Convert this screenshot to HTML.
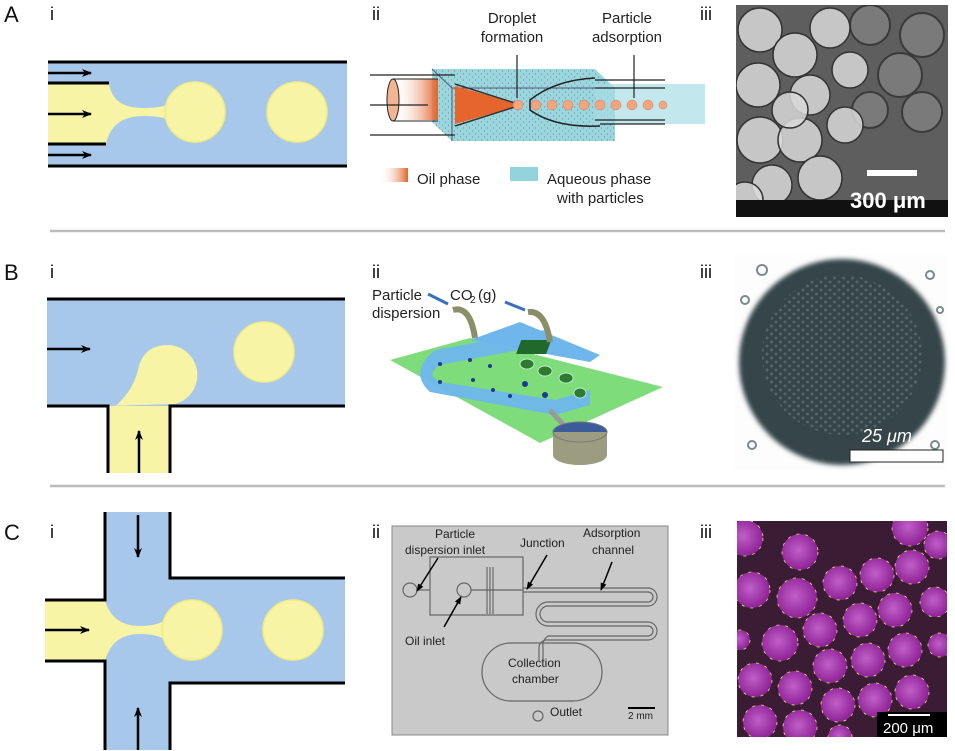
<!DOCTYPE html>
<html><head><meta charset="utf-8"><style>
html,body{margin:0;padding:0;background:#fff;}
svg{display:block;font-family:"Liberation Sans",sans-serif;}
</style></head><body>
<svg width="955" height="751" viewBox="0 0 955 751" xmlns="http://www.w3.org/2000/svg">
<defs>
<marker id="ah" markerWidth="10" markerHeight="8" refX="9" refY="4" orient="auto" markerUnits="userSpaceOnUse"><path d="M0,0 L10,4 L0,8 L3,4z" fill="#000"/></marker>
<marker id="ah2" markerWidth="8" markerHeight="6" refX="7" refY="3" orient="auto" markerUnits="userSpaceOnUse"><path d="M0,0 L8,3 L0,6z" fill="#000"/></marker>
<linearGradient id="oil" x1="0" x2="1"><stop offset="0" stop-color="#fff" stop-opacity="0"/><stop offset="1" stop-color="#e2622a"/></linearGradient>
<radialGradient id="pd" cx="0.45" cy="0.45" r="0.6"><stop offset="0" stop-color="#c060c8"/><stop offset="1" stop-color="#8a1c92"/></radialGradient>
<pattern id="dots" width="6" height="6" patternUnits="userSpaceOnUse"><rect width="6" height="6" fill="#8ed3dc"/><circle cx="1.5" cy="2" r="0.6" fill="#777"/><circle cx="4.5" cy="5" r="0.6" fill="#777"/></pattern>
<pattern id="hex" width="9" height="8" patternUnits="userSpaceOnUse"><circle cx="2" cy="2" r="1.5" fill="#5b7070"/><circle cx="6.5" cy="6" r="1.5" fill="#5b7070"/></pattern>
<clipPath id="cA"><rect x="736" y="5" width="212" height="212"/></clipPath>
<clipPath id="cC"><rect x="737" y="521" width="210" height="216"/></clipPath>
<filter id="blur"><feGaussianBlur stdDeviation="2.5"/></filter>
</defs>

<!-- labels -->
<g font-size="22" fill="#111">
<text x="4" y="22">A</text><text x="4" y="280">B</text><text x="4" y="540">C</text>
</g>
<g font-size="18" fill="#111">
<text x="50" y="20">i</text><text x="372" y="20">ii</text><text x="700" y="20">iii</text>
<text x="50" y="278">i</text><text x="372" y="278">ii</text><text x="700" y="278">iii</text>
<text x="50" y="538">i</text><text x="372" y="538">ii</text><text x="700" y="538">iii</text>
</g>

<!-- separators -->
<line x1="50" y1="231" x2="945" y2="231" stroke="#bbb" stroke-width="2.5"/>
<line x1="50" y1="486" x2="945" y2="486" stroke="#bbb" stroke-width="2.5"/>

<!-- A-i -->
<rect x="48" y="62" width="299" height="104" fill="#a7c8eb"/>
<path d="M48,83 L109,83 Q112,108 143,108 Q170,108 172,100 L172,124 Q170,116 143,116 Q112,116 106,144 L48,144z" fill="#f7f4a6"/>
<circle cx="195" cy="112" r="30" fill="#f7f4a6" stroke="#f2ec80" stroke-width="1.5"/>
<circle cx="297" cy="112" r="30" fill="#f7f4a6" stroke="#f2ec80" stroke-width="1.5"/>
<line x1="48" y1="62" x2="347" y2="62" stroke="#000" stroke-width="3"/>
<line x1="48" y1="166" x2="347" y2="166" stroke="#000" stroke-width="3"/>
<line x1="48" y1="83" x2="109" y2="83" stroke="#000" stroke-width="3"/>
<line x1="48" y1="144" x2="106" y2="144" stroke="#000" stroke-width="3"/>
<g stroke="#000" stroke-width="2.5" marker-end="url(#ah)">
<line x1="48" y1="73" x2="91" y2="73"/><line x1="48" y1="114" x2="91" y2="114"/><line x1="48" y1="155" x2="91" y2="155"/>
</g>

<!-- A-ii -->
<g font-size="15" fill="#222">
<text x="512" y="23" text-anchor="middle">Droplet</text><text x="512" y="42" text-anchor="middle">formation</text>
<text x="627" y="23" text-anchor="middle">Particle</text><text x="627" y="42" text-anchor="middle">adsorption</text>
<text x="417" y="184">Oil phase</text><text x="547" y="184">Aqueous phase</text><text x="557" y="203">with particles</text>
</g>
<polygon points="432,69 595,69 615,88 615,141 452,141 432,122" fill="url(#dots)" opacity="0.9"/>
<line x1="432" y1="69" x2="452" y2="88" stroke="#557" stroke-width="1"/>
<line x1="452" y1="88" x2="615" y2="88" stroke="#557" stroke-width="1"/>
<line x1="452" y1="88" x2="452" y2="141" stroke="#557" stroke-width="1"/>
<rect x="595" y="84" width="110" height="40" fill="#a8dde4" opacity="0.7"/>
<line x1="595" y1="80" x2="665" y2="80" stroke="#222" stroke-width="1.3"/>
<line x1="600" y1="124" x2="665" y2="124" stroke="#222" stroke-width="1.3"/>
<line x1="595" y1="88" x2="665" y2="88" stroke="#222" stroke-width="1.3"/>
<line x1="595" y1="120" x2="665" y2="120" stroke="#222" stroke-width="1.3"/>
<rect x="393" y="79" width="45" height="41" fill="url(#oil)"/>
<ellipse cx="393" cy="100" rx="6" ry="21" fill="#f2b594" stroke="#222"/>
<line x1="393" y1="79" x2="438" y2="79" stroke="#222"/><line x1="393" y1="121" x2="438" y2="121" stroke="#222"/>
<polygon points="455,86 515,103 515,107 455,124" fill="#e5652c"/>
<path d="M455,84 Q480,92 515,103 M455,126 Q480,118 515,107" stroke="#333" stroke-width="1.5" fill="none"/>
<path d="M595,78 Q555,80 530,100 L530,110 Q555,128 600,126" stroke="#222" stroke-width="1.5" fill="none"/>
<g fill="#f3a57c" stroke="#c77" stroke-width="0.5">
<circle cx="518" cy="105" r="5"/><circle cx="536" cy="105" r="5"/><circle cx="552" cy="105" r="5"/><circle cx="568" cy="105" r="5"/><circle cx="584" cy="105" r="5"/><circle cx="600" cy="105" r="5"/><circle cx="616" cy="105" r="5"/><circle cx="632" cy="105" r="5"/><circle cx="648" cy="105" r="5"/><circle cx="663" cy="105" r="4"/>
</g>
<g stroke="#222" stroke-width="1.2">
<line x1="370" y1="75" x2="455" y2="75"/><line x1="370" y1="135" x2="455" y2="135"/><line x1="370" y1="105" x2="428" y2="105"/>
<line x1="517" y1="98" x2="517" y2="55"/><line x1="634" y1="98" x2="634" y2="55"/>
</g>
<rect x="380" y="168" width="28" height="14" fill="url(#oil)"/>
<rect x="510" y="167" width="28" height="14" fill="#92d3dc"/>

<!-- A-iii -->
<g clip-path="url(#cA)">
<rect x="736" y="5" width="212" height="212" fill="#5e5e5e"/>
<g fill="#7a7a7a" stroke="#3a3a3a" stroke-width="2">
<circle cx="870" cy="25" r="20"/><circle cx="922" cy="35" r="22"/><circle cx="900" cy="75" r="22"/><circle cx="922" cy="112" r="20"/><circle cx="870" cy="110" r="18"/>
</g>
<g fill="#d8d8d8" stroke="#333" stroke-width="1.5" fill-opacity="0.85">
<circle cx="760" cy="30" r="22"/><circle cx="795" cy="55" r="22"/><circle cx="830" cy="28" r="20"/><circle cx="758" cy="85" r="22"/><circle cx="810" cy="95" r="20"/><circle cx="850" cy="70" r="18"/><circle cx="760" cy="140" r="23"/><circle cx="800" cy="140" r="22"/><circle cx="845" cy="125" r="18"/><circle cx="772" cy="185" r="20"/><circle cx="820" cy="178" r="22"/><circle cx="790" cy="110" r="18"/><circle cx="745" cy="200" r="18"/>
</g>
<rect x="736" y="200" width="212" height="17" fill="#111"/>
</g>
<rect x="867" y="170" width="50" height="6" fill="#fff"/>
<text x="850" y="208" font-size="22" font-weight="bold" fill="#fff">300 μm</text>

<!-- B-i -->
<rect x="47" y="299" width="298" height="107" fill="#a7c8eb"/>
<rect x="108" y="406" width="62" height="67" fill="#f7f4a6"/>
<path d="M108,412 Q132,395 138,370 Q143,345 168,345 A30,30 0 0 1 175,404 L108,406z" fill="#f7f4a6"/>
<circle cx="264" cy="352" r="30" fill="#f7f4a6" stroke="#f2ec80" stroke-width="1.5"/>
<path d="M47,299 H345" stroke="#000" stroke-width="3"/>
<path d="M47,406 H108 V473 M170,473 V406 H345" stroke="#000" stroke-width="3" fill="none"/>
<line x1="47" y1="349" x2="90" y2="349" stroke="#000" stroke-width="2.5" marker-end="url(#ah)"/>
<line x1="139" y1="473" x2="139" y2="431" stroke="#000" stroke-width="2.5" marker-end="url(#ah)"/>

<!-- B-ii -->
<polygon points="390,360 470,338 663,387 540,443" fill="#7fdc7a"/>
<path d="M435,350 L545,330 L545,345 L440,365 Q425,375 440,382 L555,400 L590,390 L590,405 L555,415 L430,392 Q408,372 435,350z" fill="#6fb6ec" opacity="0.95"/>
<path d="M470,340 L520,322 L600,355 L590,362z" fill="#6fb6ec"/>
<rect x="520" y="340" width="30" height="14" fill="#1f6a2a" transform="skewX(-20) translate(125,0)"/>
<g fill="#1d3c8a"><circle cx="440" cy="364" r="2"/><circle cx="470" cy="360" r="2"/><circle cx="490" cy="366" r="2"/><circle cx="440" cy="382" r="2"/><circle cx="473" cy="380" r="2"/><circle cx="493" cy="390" r="2"/><circle cx="510" cy="396" r="2"/><circle cx="525" cy="384" r="3"/><circle cx="545" cy="395" r="3"/></g>
<g fill="#2f7a2f" stroke="#cfe" stroke-width="0.7"><ellipse cx="527" cy="364" rx="7" ry="5"/><ellipse cx="545" cy="371" rx="7" ry="5"/><ellipse cx="566" cy="378" rx="7" ry="5"/><ellipse cx="580" cy="393" rx="6" ry="5"/></g>
<path d="M453,310 Q470,305 475,338" stroke="#8a8f6a" stroke-width="6" fill="none"/>
<path d="M528,312 Q545,310 550,342" stroke="#8a8f6a" stroke-width="6" fill="none"/>
<path d="M550,410 L568,430" stroke="#999" stroke-width="5"/>
<ellipse cx="580" cy="432" rx="27" ry="10" fill="#3b5b9a"/>
<path d="M553,432 L553,455 A27,10 0 0 0 607,455 L607,432" fill="#9c9c80"/>
<ellipse cx="580" cy="432" rx="27" ry="10" fill="none" stroke="#777"/>
<g font-size="15" fill="#222"><text x="372" y="300">Particle</text><text x="372" y="318">dispersion</text><text x="450" y="300">CO</text><text x="470" y="303" font-size="10">2</text><text x="478" y="300">(g)</text></g>
<line x1="428" y1="294" x2="448" y2="304" stroke="#3b6fc0" stroke-width="3"/>
<line x1="505" y1="302" x2="525" y2="310" stroke="#3b6fc0" stroke-width="3"/>

<!-- B-iii -->
<rect x="735" y="255" width="212" height="215" fill="#fdfdfd"/>
<circle cx="842" cy="362" r="103" fill="#34454a" filter="url(#blur)"/>
<circle cx="842" cy="355" r="80" fill="url(#hex)" opacity="0.8"/>
<g fill="none" stroke="#7a8a8a" stroke-width="2"><circle cx="762" cy="270" r="5"/><circle cx="745" cy="300" r="4"/><circle cx="930" cy="275" r="4"/><circle cx="940" cy="310" r="3"/><circle cx="752" cy="445" r="4"/><circle cx="935" cy="445" r="4"/></g>
<text x="862" y="442" font-size="18" fill="#fff" font-style="italic">25 μm</text>
<rect x="850" y="450" width="93" height="12" fill="#fff" stroke="#222" stroke-width="1"/>

<!-- C-i -->
<path d="M105,512 H170 V578 H345 V683 H170 V750 H105 V661 H45 V600 H105z" fill="#a7c8eb"/>
<path d="M45,600 H105 Q112,626 140,626 Q162,626 170,616 L170,644 Q162,634 140,634 Q112,634 105,661 H45z" fill="#f7f4a6"/>
<circle cx="192" cy="630" r="30" fill="#f7f4a6" stroke="#f2ec80" stroke-width="1.5"/>
<circle cx="293" cy="630" r="30" fill="#f7f4a6" stroke="#f2ec80" stroke-width="1.5"/>
<path d="M105,512 V600 H45 M45,661 H105 V750 M170,750 V683 H345 M345,578 H170 V512" stroke="#000" stroke-width="3" fill="none"/>
<line x1="138" y1="515" x2="138" y2="557" stroke="#000" stroke-width="2.5" marker-end="url(#ah)"/>
<line x1="138" y1="750" x2="138" y2="708" stroke="#000" stroke-width="2.5" marker-end="url(#ah)"/>
<line x1="45" y1="630" x2="89" y2="630" stroke="#000" stroke-width="2.5" marker-end="url(#ah)"/>

<!-- C-ii -->
<rect x="392" y="526" width="276" height="209" fill="#c9c9c9" stroke="#888"/>
<g fill="none" stroke="#666" stroke-width="1.2">
<rect x="430" y="557" width="93" height="58"/>
<path d="M523,588 H648 A9,9 0 0 1 648,606 H548 A8,8 0 0 0 548,622 H648 A9,9 0 0 1 648,640 H548 A8,8 0 0 0 539,648 V660"/>
<path d="M523,592 H648 A5,5 0 0 1 648,602 H548 A12,12 0 0 0 548,626 H648 A5,5 0 0 1 648,636 H548 A12,12 0 0 0 543,648 V660"/>
<rect x="482" y="643" width="120" height="58" rx="29"/>
<circle cx="538" cy="716" r="5"/><circle cx="410" cy="590" r="7"/><circle cx="464" cy="590" r="7"/>
<line x1="417" y1="590" x2="430" y2="590"/><line x1="471" y1="590" x2="523" y2="590"/>
</g>
<g stroke="#555" stroke-width="1"><line x1="487" y1="567" x2="487" y2="614"/><line x1="490" y1="567" x2="490" y2="614"/><line x1="493" y1="567" x2="493" y2="614"/></g>
<g font-size="12" fill="#222">
<text x="435" y="538">Particle</text><text x="405" y="554">dispersion inlet</text>
<text x="520" y="547">Junction</text>
<text x="583" y="537">Adsorption</text><text x="592" y="554">channel</text>
<text x="405" y="645">Oil inlet</text>
<text x="508" y="667">Collection</text><text x="512" y="683">chamber</text>
<text x="550" y="716">Outlet</text><text x="628" y="719" font-size="10">2 mm</text>
</g>
<line x1="628" y1="708" x2="655" y2="708" stroke="#000" stroke-width="2"/>
<g stroke="#000" stroke-width="1.5" marker-end="url(#ah2)">
<line x1="438" y1="558" x2="417" y2="591"/><line x1="547" y1="555" x2="527" y2="589"/><line x1="612" y1="562" x2="601" y2="590"/><line x1="444" y1="627" x2="461" y2="597"/>
</g>

<!-- C-iii -->
<g clip-path="url(#cC)">
<rect x="737" y="521" width="210" height="216" fill="#3a1d35"/>
<g fill="url(#pd)" stroke="#e8e070" stroke-width="0.8" stroke-dasharray="3,6">
<circle cx="745" cy="538" r="18"/><circle cx="800" cy="552" r="18"/><circle cx="910" cy="528" r="18"/>
<circle cx="752" cy="590" r="18"/><circle cx="797" cy="598" r="20"/><circle cx="840" cy="583" r="17"/><circle cx="877" cy="575" r="17"/><circle cx="912" cy="567" r="17"/><circle cx="938" cy="545" r="14"/>
<circle cx="780" cy="643" r="18"/><circle cx="820" cy="630" r="17"/><circle cx="860" cy="620" r="17"/><circle cx="895" cy="610" r="17"/><circle cx="935" cy="602" r="15"/><circle cx="740" cy="640" r="10"/>
<circle cx="755" cy="680" r="17"/><circle cx="795" cy="688" r="17"/><circle cx="830" cy="666" r="17"/><circle cx="868" cy="660" r="17"/><circle cx="905" cy="650" r="17"/><circle cx="940" cy="645" r="12"/>
<circle cx="760" cy="722" r="17"/><circle cx="800" cy="727" r="17"/><circle cx="838" cy="705" r="17"/><circle cx="875" cy="700" r="17"/><circle cx="912" cy="692" r="17"/><circle cx="840" cy="737" r="12"/>
</g>
</g>
<rect x="877" y="712" width="70" height="25" fill="#000"/>
<line x1="888" y1="715" x2="930" y2="715" stroke="#fff" stroke-width="2"/>
<text x="883" y="733" font-size="15" fill="#fff">200 μm</text>
</svg>
</body></html>
